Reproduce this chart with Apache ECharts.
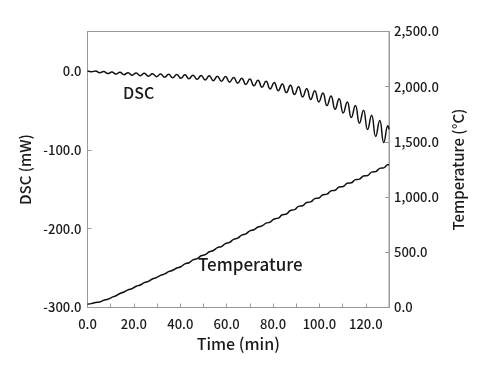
<!DOCTYPE html>
<html><head><meta charset="utf-8">
<script src="https://cdn.jsdelivr.net/npm/echarts@6/dist/echarts.min.js"></script>
<style>html,body{margin:0;padding:0;background:#fff}#c{width:493px;height:379px}</style>
</head><body><div id="c"></div>
<script>
var timeMin = [0,1.75,3.5,5.25,7,8.75,10.5,12.25,14,15.75,17.5,19.25,21,22.75,24.5,26.25,28,29.75,31.5,33.25,35,36.75,38.5,40.25,42,43.75,45.5,47.25,49,50.75,52.5,54.25,56,57.75,59.5,61.25,63,64.75,66.5,68.25,70,71.75,73.5,75.25,77,78.75,80.5,82.25,84,85.75,87.5,89.25,91,92.75,94.5,96.25,98,99.75,101.5,103.25,105,106.75,108.5,110.25,112,113.75,115.5,117.25,119,120.75,122.5,124.25,126,127.75,129.5,130];
var dscValues = [0,-1.1,-0.1,-2.2,-0.8,-3.3,-1.4,-4.1,-1.8,-4.7,-2.2,-5.4,-2.6,-6.0,-3.0,-6.6,-3.5,-7.3,-3.9,-7.9,-4.3,-8.6,-4.6,-9.3,-5.0,-10.0,-5.4,-10.7,-5.7,-11.4,-6.2,-12.3,-6.7,-13.1,-7.2,-14.2,-8.2,-15.6,-9.2,-17.1,-10.2,-18.8,-11.7,-20.8,-13.2,-22.8,-14.8,-25.1,-16.5,-27.5,-18.3,-30.0,-20.2,-33.0,-22.7,-36.1,-25.1,-39.3,-28.1,-43.9,-31.8,-48.6,-35.4,-53.4,-39.4,-59.0,-43.9,-66.2,-49.8,-74.4,-56.3,-83.1,-62.9,-90.8,-69.5,-74];
var tempValues = [30,35,46,50,66,74,92,106,127,140,160,171,192,204,225,237,258,271,291,304,325,337,358,369,395,405,432,442,469,479,505,516,542,552,579,590,617,628,656,667,694,704,729,739,764,774,802,809,840,847,879,886,916,922,951,957,986,992,1021,1027,1056,1062,1091,1096,1125,1130,1158,1163,1192,1196,1226,1231,1260,1265,1294,1293];
var xTicks = [0,20,40,60,80,100,120];
var dscTicks = [-300,-200,-100,0];
var tempTicks = [0,500,1000,1500,2000,2500];

var font = '"Noto Sans CJK JP", "Noto Sans", sans-serif';
var gray = '#9a9a9a';
function pairs(xs, ys){ return xs.map(function(x,i){ return [x, ys[i]]; }); }

var chart = echarts.init(document.getElementById('c'), null, {renderer:'canvas'});
chart.setOption({
  animation:false,
  backgroundColor:'#fff',
  grid:{left:87.5, right:104, top:31.5, bottom:71.5, show:true, borderColor:gray, borderWidth:1, outerBoundsMode:'none', containLabel:false},
  xAxis:{type:'value', min:0, max:130, interval:10,
    name:'Time (min)', nameLocation:'middle', nameGap:28,
    nameTextStyle:{fontFamily:font, fontSize:16, fontWeight:500, color:'#1a1a1a'},
    axisLine:{onZero:false, lineStyle:{color:gray}}, axisTick:{inside:true, length:4, lineStyle:{color:gray}},
    splitLine:{show:false},
    axisLabel:{margin:10, fontFamily:font, fontSize:13, fontWeight:500, color:'#1a1a1a',
      formatter:function(v){ return xTicks.indexOf(v)>=0 ? v.toFixed(1) : ''; }}
  },
  yAxis:[
    {type:'value', min:-300, max:50, interval:100, position:'left',
     name:'DSC (mW)', nameLocation:'middle', nameGap:52, nameRotate:90,
     nameTextStyle:{fontFamily:font, fontSize:15, fontWeight:500, color:'#1a1a1a'},
     axisLine:{show:true, onZero:false, lineStyle:{color:gray}}, axisTick:{show:true, inside:true, length:4, lineStyle:{color:gray}},
     splitLine:{show:false},
     axisLabel:{margin:6, fontFamily:font, fontSize:13, fontWeight:500, color:'#1a1a1a',
       formatter:function(v){ return dscTicks.indexOf(v)>=0 ? v.toFixed(1) : ''; }}
    },
    {type:'value', min:0, max:2500, interval:500, position:'right',
     name:'Temperature (°C)', nameLocation:'middle', nameGap:62, nameRotate:90,
     nameTextStyle:{fontFamily:font, fontSize:15, fontWeight:500, color:'#1a1a1a'},
     axisLine:{show:true, onZero:false, lineStyle:{color:gray}}, axisTick:{show:true, inside:true, length:4, lineStyle:{color:gray}},
     splitLine:{show:false},
     axisLabel:{margin:5, fontFamily:font, fontSize:13, fontWeight:500, color:'#1a1a1a',
       formatter:function(v){ return tempTicks.indexOf(v)>=0 ? v.toLocaleString('en-US',{minimumFractionDigits:1, maximumFractionDigits:1}) : ''; }}
    }
  ],
  series:[
    {type:'line', yAxisIndex:0, data:pairs(timeMin, dscValues), smooth:0.5, symbol:'none',
     lineStyle:{color:'#111', width:1.5}},
    {type:'line', yAxisIndex:1, data:pairs(timeMin, tempValues), smooth:0.5, symbol:'none',
     lineStyle:{color:'#111', width:1.5}}
  ],
  graphic:[
    {type:'text', left:123, top:85, style:{text:'DSC', fontFamily:font, fontSize:16, fontWeight:500, fill:'#1a1a1a'}},
    {type:'text', left:198, top:256, style:{text:'Temperature', fontFamily:font, fontSize:17, fontWeight:500, fill:'#1a1a1a'}}
  ]
});
</script></body></html>
